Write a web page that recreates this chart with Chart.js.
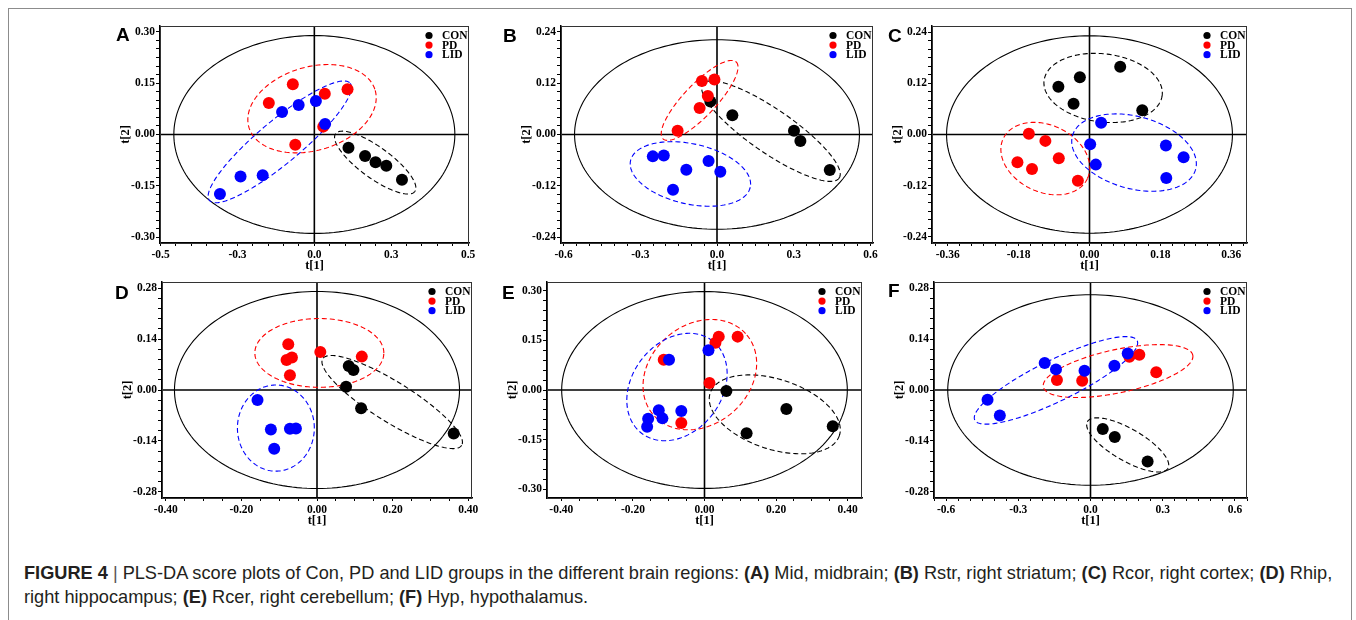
<!DOCTYPE html>
<html>
<head>
<meta charset="utf-8">
<script src="https://cdn.jsdelivr.net/npm/chart.js@4.4.0/dist/chart.umd.min.js"></script>
<style>
  html, body { margin: 0; padding: 0; background: #fff; }
  body { width: 1356px; height: 620px; position: relative; overflow: hidden; }
  .frame { position: absolute; left: 8px; top: 8px; width: 1342px; height: 660px; border: 1px solid #8c8c8c; }
  .panel { position: absolute; }
  .letter { position: absolute; font: bold 19px "Liberation Sans", Arial, sans-serif; line-height: 1; color: #000; }
  .caption { position: absolute; left: 24px; top: 561px; font-family: "Liberation Sans", Arial, sans-serif; font-size: 18.2px; line-height: 24px; color: #231f20; white-space: nowrap; }
  .caption b { font-weight: bold; }
  .caption .sep { color: #555; padding: 0 5px; }
</style>
</head>
<body>
<div class="frame"></div>
<div id="stage"></div>
<div class="caption">
  <b>FIGURE 4</b><span class="sep">|</span>PLS-DA score plots of Con, PD and LID groups in the different brain regions: <b>(A)</b> Mid, midbrain; <b>(B)</b> Rstr, right striatum; <b>(C)</b> Rcor, right cortex; <b>(D)</b> Rhip,<br>
  right hippocampus; <b>(E)</b> Rcer, right cerebellum; <b>(F)</b> Hyp, hypothalamus.
</div>
<script>
// groups shown in every panel
const groups = ['CON', 'PD', 'LID'];
const groupColors = ['#000000', '#ff0000', '#0000ff'];

// Scores [t1, t2]
// A - Mid, midbrain
const conA = [[0.111, -0.039], [0.165, -0.063], [0.199, -0.081], [0.234, -0.091], [0.285, -0.132]];
const pdA  = [[-0.070, 0.147], [-0.148, 0.092], [0.034, 0.119], [0.108, 0.132], [0.029, 0.023], [-0.062, -0.030]];
const lidA = [[-0.105, 0.066], [-0.051, 0.086], [0.005, 0.098], [0.035, 0.031], [-0.168, -0.119], [-0.240, -0.123], [-0.307, -0.174]];
// B - Rstr, right striatum
const conB = [[-0.026, 0.077], [0.060, 0.045], [0.301, 0.009], [0.326, -0.015], [0.441, -0.083]];
const pdB  = [[-0.059, 0.125], [-0.010, 0.128], [-0.036, 0.090], [-0.068, 0.062], [-0.154, 0.009]];
const lidB = [[-0.251, -0.051], [-0.208, -0.049], [-0.120, -0.082], [-0.033, -0.062], [0.013, -0.087], [-0.172, -0.129]];
// C - Rcor, right cortex
const conC = [[-0.079, 0.112], [-0.0245, 0.1345], [-0.0405, 0.072], [0.078, 0.159], [0.134, 0.057]];
const pdC  = [[-0.154, 0.0016], [-0.112, -0.015], [-0.078, -0.056], [-0.183, -0.065], [-0.146, -0.081], [-0.0295, -0.1086]];
const lidC = [[0.0295, 0.0275], [0.0017, -0.0228], [0.016, -0.0708], [0.194, -0.026], [0.239, -0.0535], [0.195, -0.102]];
// D - Rhip, right hippocampus
const conD = [[0.084, 0.0661], [0.0964, 0.0551], [0.0769, 0.0092], [0.1167, -0.0505], [0.3616, -0.1194]];
const pdD  = [[-0.076, 0.1258], [-0.0805, 0.0826], [-0.0663, 0.0891], [-0.0716, 0.0404], [0.0088, 0.1047], [0.1185, 0.0918]];
const lidD = [[-0.1574, -0.0275], [-0.122, -0.1084], [-0.0716, -0.1065], [-0.0557, -0.1056], [-0.1132, -0.1616]];
// E - Rcer, right cerebellum
const conE = [[0.0611, -0.003], [0.1176, -0.1313], [0.2287, -0.0576], [0.3583, -0.1101]];
const pdE  = [[0.0398, 0.1616], [0.0306, 0.1434], [0.0926, 0.1616], [-0.1139, 0.0919], [0.0139, 0.0212], [-0.0648, -0.100]];
const lidE = [[0.0111, 0.1202], [-0.0991, 0.0919], [-0.1278, -0.0616], [-0.1176, -0.0859], [-0.1574, -0.0869], [-0.1602, -0.1111], [-0.0648, -0.0636]];
// F - Hyp, hypothalamus
const conF = [[0.051, -0.107], [0.1007, -0.129], [0.2372, -0.1967]];
const pdF  = [[-0.1393, 0.0274], [-0.0345, 0.0256], [0.1614, 0.0915], [0.2028, 0.097], [0.2731, 0.0485]];
const lidF = [[-0.1903, 0.0741], [-0.1434, 0.0567], [-0.0248, 0.0531], [0.0993, 0.0668], [0.1545, 0.1006], [-0.4276, -0.0265], [-0.3766, -0.0704]];

// group confidence ellipses per panel, order CON, PD, LID:
// [centre t1, centre t2, half-axis u (t1, t2), half-axis v (t1, t2)]
const ellA = [[0.198, -0.0821, 0.1297, -0.0831, -0.0259, -0.0391], [-0.0076, 0.0753, 0.2054, 0.0538, 0.0375, -0.1173], [-0.1124, -0.0215, 0.229, 0.171, 0.0432, -0.0489]];
const ellB = [[0.211, 0.0078, 0.267, -0.109, -0.0456, -0.0429], [-0.068, 0.0795, 0.143, 0.0896, 0.0456, -0.0257], [-0.104, -0.092, 0.234, -0.031, -0.0255, -0.0686]];
const ellC = [[0.0346, 0.1094, 0.150, -0.0173, -0.0105, -0.0795], [-0.1122, -0.0566, 0.1071, -0.0466, -0.0357, -0.0713], [0.1131, -0.0425, 0.1565, -0.0391, -0.0236, -0.0821]];
const ellD = [[0.1989, -0.0331, 0.1837, -0.1192, -0.0281, -0.0467], [0.0062, 0.1019, 0.1706, 0, 0, 0.0946], [-0.1088, -0.1047, 0.1017, 0, 0, 0.1185]];
const ellE = [[0.1963, -0.0737, 0.1806, -0.0639, -0.03, -0.1009], [-0.013, 0.0465, 0.1312, 0.1201, 0.0893, -0.1161], [-0.0769, 0.0091, 0.0997, 0.1393, 0.0985, -0.0839]];
const ellF = [[0.1545, -0.151, 0.1672, -0.064, -0.0331, -0.0381], [0.1145, 0.0521, 0.3103, 0.0437, 0.0186, -0.0582], [-0.1434, 0.0265, 0.3372, 0.1091, 0.0375, -0.051]];

// Hotelling T2 ellipse half-axes [t1, t2]
const t2A = [0.457, 0.289];
const t2B = [0.557, 0.221];
const t2C = [0.363, 0.232];
const t2D = [0.377, 0.271];
const t2E = [0.399, 0.298];
const t2F = [0.593, 0.262];

// axis ticks and their printed labels
const xTicksA = [-0.5, -0.25, 0, 0.25, 0.5];
const xLabelsA = ['-0.5', '-0.3', '0.0', '0.3', '0.5'];
const yTicksA = [-0.3, -0.15, 0, 0.15, 0.3];
const yLabelsA = ['-0.30', '-0.15', '0.00', '0.15', '0.30'];
const xTicksB = [-0.6, -0.3, 0, 0.3, 0.6];
const xLabelsB = ['-0.6', '-0.3', '0.0', '0.3', '0.6'];
const yTicksB = [-0.24, -0.12, 0, 0.12, 0.24];
const yLabelsB = ['-0.24', '-0.12', '0.00', '0.12', '0.24'];
const xTicksC = [-0.36, -0.18, 0, 0.18, 0.36];
const xLabelsC = ['-0.36', '-0.18', '0.00', '0.18', '0.36'];
const xTicksD = [-0.4, -0.2, 0, 0.2, 0.4];
const xLabelsD = ['-0.40', '-0.20', '0.00', '0.20', '0.40'];
const yTicksD = [-0.28, -0.14, 0, 0.14, 0.28];
const yLabelsD = ['-0.28', '-0.14', '0.00', '0.14', '0.28'];

const serif = '"Liberation Serif", "Times New Roman", serif';
const Y_AXIS_W = 48;
const X_AXIS_H = 34;
const PAD_T = 8;
const PAD_R = 8;

const panels = [
  { letter: 'A', box: [160, 26, 469, 243], letterPos: [116, 25], data: [conA, pdA, lidA], ell: ellA, t2: t2A,
    x: { range: [-0.502, 0.503], ticks: xTicksA, labels: xLabelsA, minor: 0.05 },
    y: { range: [-0.317, 0.317], ticks: yTicksA, labels: yLabelsA, minor: 0.025 } },
  { letter: 'B', box: [561, 26, 873, 243], letterPos: [503, 25.5], data: [conB, pdB, lidB], ell: ellB, t2: t2B,
    x: { range: [-0.61, 0.61], ticks: xTicksB, labels: xLabelsB, minor: 0.05 },
    y: { range: [-0.253, 0.253], ticks: yTicksB, labels: yLabelsB, minor: 0.02 } },
  { letter: 'C', box: [932, 26, 1247, 243], letterPos: [888, 25.5], data: [conC, pdC, lidC], ell: ellC, t2: t2C,
    x: { range: [-0.40, 0.40], ticks: xTicksC, labels: xLabelsC, minor: 0.03 },
    y: { range: [-0.255, 0.255], ticks: yTicksB, labels: yLabelsB, minor: 0.02 } },
  { letter: 'D', box: [162, 282, 472, 498], letterPos: [115, 282.5], data: [conD, pdD, lidD], ell: ellD, t2: t2D,
    x: { range: [-0.41, 0.41], ticks: xTicksD, labels: xLabelsD, minor: 0.05 },
    y: { range: [-0.297, 0.297], ticks: yTicksD, labels: yLabelsD, minor: 0.028 } },
  { letter: 'E', box: [547, 282, 862, 498], letterPos: [502, 282.5], data: [conE, pdE, lidE], ell: ellE, t2: t2E,
    x: { range: [-0.44, 0.44], ticks: xTicksD, labels: xLabelsD, minor: 0.05 },
    y: { range: [-0.327, 0.327], ticks: yTicksA, labels: yLabelsA, minor: 0.03 } },
  { letter: 'F', box: [934, 282, 1247, 498], letterPos: [888, 280.5], data: [conF, pdF, lidF], ell: ellF, t2: t2F,
    x: { range: [-0.65, 0.65], ticks: xTicksB, labels: xLabelsB, minor: 0.05 },
    y: { range: [-0.297, 0.297], ticks: yTicksD, labels: yLabelsD, minor: 0.028 } }
];

// majors plus minor tick marks inside the axis range
function tickList(min, max, majors, step) {
  const out = majors.slice();
  for (let v = Math.ceil(min / step) * step; v <= max + 1e-9; v += step) {
    if (!out.some(m => Math.abs(m - v) < step * 0.3)) out.push(+v.toFixed(4));
  }
  return out.filter(v => v >= min - 1e-9 && v <= max + 1e-9).sort((a, b) => a - b);
}

function axisOptions(ax, isX) {
  const [min, max] = ax.range;
  return {
    type: 'linear',
    min: min,
    max: max,
    afterBuildTicks: s => { s.ticks = tickList(min, max, ax.ticks, ax.minor).map(v => ({ value: v })); },
    afterFit: s => {
      if (isX) { s.height = X_AXIS_H; s.paddingLeft = 0; s.paddingRight = 0; }
      else { s.width = Y_AXIS_W; s.paddingTop = 0; s.paddingBottom = 0; }
    },
    ticks: {
      autoSkip: false,
      maxRotation: 0,
      minRotation: 0,
      padding: isX ? 2 : 1,
      color: '#000',
      font: { family: serif, weight: 'bold', size: 11.5 },
      callback: v => {
        const i = ax.ticks.findIndex(m => Math.abs(m - v) < 1e-9);
        return i < 0 ? '' : ax.labels[i];
      }
    },
    grid: { drawOnChartArea: false, drawTicks: true, tickLength: isX ? 3 : 4, color: '#000', lineWidth: 1 },
    border: { display: true, color: '#000', width: 1.5 },
    title: {
      display: true,
      text: isX ? 't[1]' : 't[2]',
      color: '#000',
      font: { family: serif, weight: 'bold', size: 12.5 },
      padding: isX ? { top: 0, bottom: 4 } : { top: 6, bottom: 0 }
    }
  };
}

function traceEllipse(ctx, xs, ys, cx, cy, ux, uy, vx, vy) {
  ctx.beginPath();
  for (let k = 0; k <= 180; k++) {
    const a = k / 180 * Math.PI * 2;
    const px = xs.getPixelForValue(cx + ux * Math.cos(a) + vx * Math.sin(a));
    const py = ys.getPixelForValue(cy + uy * Math.cos(a) + vy * Math.sin(a));
    if (k === 0) ctx.moveTo(px, py); else ctx.lineTo(px, py);
  }
  ctx.closePath();
  ctx.stroke();
}

const scorePlot = {
  id: 'scorePlot',
  beforeDatasetsDraw(chart) {
    const { ctx, chartArea: a, scales: { x, y } } = chart;
    const p = chart.options.plugins.scorePlot;
    ctx.save();
    ctx.beginPath();
    ctx.rect(a.left, a.top, a.right - a.left, a.bottom - a.top);
    ctx.clip();

    // zero lines
    ctx.strokeStyle = '#000';
    ctx.lineWidth = 1.6;
    ctx.beginPath();
    ctx.moveTo(x.getPixelForValue(0), a.top);
    ctx.lineTo(x.getPixelForValue(0), a.bottom);
    ctx.moveTo(a.left, y.getPixelForValue(0));
    ctx.lineTo(a.right, y.getPixelForValue(0));
    ctx.stroke();

    // Hotelling T2
    ctx.lineWidth = 1.1;
    traceEllipse(ctx, x, y, 0, 0, p.t2[0], 0, 0, p.t2[1]);

    // group ellipses
    ctx.setLineDash([5, 3]);
    p.ell.forEach((e, i) => {
      ctx.strokeStyle = groupColors[i];
      traceEllipse(ctx, x, y, e[0], e[1], e[2], e[3], e[4], e[5]);
    });
    ctx.restore();
  },
  afterDraw(chart) {
    const { ctx, chartArea: a } = chart;
    ctx.save();
    // frame
    ctx.strokeStyle = '#333';
    ctx.lineWidth = 1;
    ctx.strokeRect(a.left + 0.5, a.top + 0.5, a.right - a.left - 1, a.bottom - a.top);

    // legend
    ctx.font = 'bold 11.5px ' + serif;
    ctx.textBaseline = 'middle';
    ctx.textAlign = 'left';
    chart.data.datasets.forEach((ds, i) => {
      const yy = a.top + 9.5 + i * 9.6;
      ctx.fillStyle = ds.backgroundColor;
      ctx.beginPath();
      ctx.arc(a.right - 40, yy, 3.6, 0, Math.PI * 2);
      ctx.fill();
      ctx.fillStyle = '#000';
      ctx.fillText(ds.label, a.right - 27, yy + 0.5);
    });
    ctx.restore();
  }
};

const stage = document.getElementById('stage');

panels.forEach(p => {
  const [l, t, r, b] = p.box;
  const w = r - l + Y_AXIS_W + PAD_R;
  const h = b - t + PAD_T + X_AXIS_H;

  const wrap = document.createElement('div');
  wrap.className = 'panel';
  wrap.style.left = (l - Y_AXIS_W) + 'px';
  wrap.style.top = (t - PAD_T) + 'px';
  wrap.style.width = w + 'px';
  wrap.style.height = h + 'px';
  const canvas = document.createElement('canvas');
  canvas.width = w;
  canvas.height = h;
  canvas.style.width = w + 'px';
  canvas.style.height = h + 'px';
  wrap.appendChild(canvas);
  stage.appendChild(wrap);

  const letter = document.createElement('div');
  letter.className = 'letter';
  letter.textContent = p.letter;
  letter.style.left = p.letterPos[0] + 'px';
  letter.style.top = p.letterPos[1] + 'px';
  stage.appendChild(letter);

  new Chart(canvas.getContext('2d'), {
    type: 'scatter',
    data: {
      datasets: groups.map((g, i) => ({
        label: g,
        data: p.data[i].map(pt => ({ x: pt[0], y: pt[1] })),
        backgroundColor: groupColors[i],
        borderWidth: 0,
        pointRadius: 6,
        pointHoverRadius: 6,
        order: 2 - i
      }))
    },
    options: {
      responsive: false,
      animation: false,
      events: [],
      layout: { padding: { left: 0, top: PAD_T, right: PAD_R, bottom: 0 } },
      scales: {
        x: axisOptions(p.x, true),
        y: axisOptions(p.y, false)
      },
      plugins: {
        legend: { display: false },
        tooltip: { enabled: false },
        scorePlot: { ell: p.ell, t2: p.t2 }
      }
    },
    plugins: [scorePlot]
  });
});
</script>
</body>
</html>
